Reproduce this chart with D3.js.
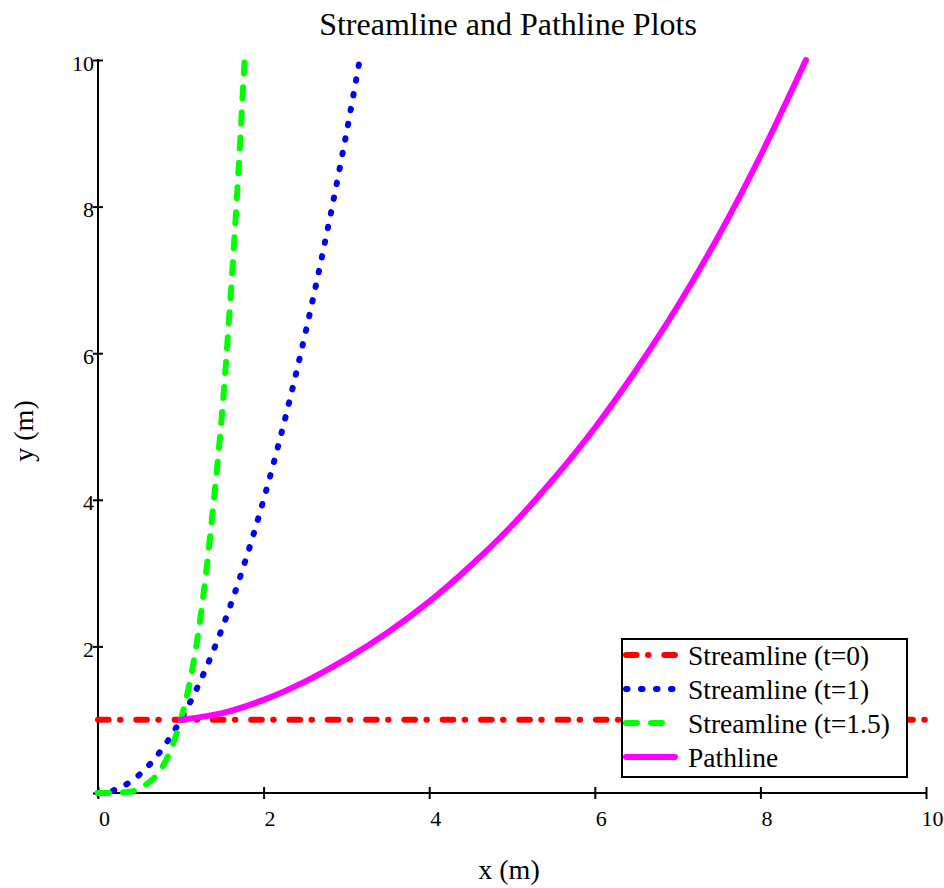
<!DOCTYPE html>
<html>
<head>
<meta charset="utf-8">
<script src="https://cdn.jsdelivr.net/npm/d3@7/dist/d3.min.js"></script>
<style>
  html, body { margin: 0; padding: 0; background: #ffffff; }
  svg text { font-family: "Liberation Serif", "Times New Roman", serif; fill: #000; }
</style>
</head>
<body>
<svg id="chart" width="944" height="888"></svg>
<script>
// ---- data ----
const titleText = "Streamline and Pathline Plots";
const xLabelText = "x (m)";
const yLabelText = "y (m)";

const xTickValues = [0, 2, 4, 6, 8, 10];
const yTickValues = [0, 2, 4, 6, 8, 10];
const yTickLabels = ["", "2", "4", "6", "8", "10"];

const seriesNames = ["Streamline (t=0)", "Streamline (t=1)", "Streamline (t=1.5)", "Pathline"];
const seriesColors = ["#ff0000", "#0000ff", "#00ff00", "#ff00ff"];

// Streamline t=0
const t0X = [0, 10];
const t0Y = [1, 1];
// Streamline t=1
const t1X = [0, 0.2, 0.4, 0.6, 0.8, 1.0, 1.2, 1.4, 1.6, 1.8, 2.0, 2.2, 2.4, 2.6, 2.8, 3.0, 3.16];
const t1Y = [0, 0.04, 0.16, 0.36, 0.64, 1.0, 1.44, 1.96, 2.56, 3.24, 4.0, 4.84, 5.76, 6.76, 7.84, 9.0, 10.0];
// Streamline t=1.5
const t15X = [0, 0.2, 0.4, 0.5, 0.6, 0.7, 0.8, 0.9, 1.0, 1.1, 1.2, 1.3, 1.4, 1.5, 1.6, 1.7, 1.77];
const t15Y = [0, 0.002, 0.02, 0.05, 0.13, 0.23, 0.40, 0.65, 1.0, 1.46, 2.1, 2.95, 4.0, 5.2, 6.75, 8.55, 10];
// Pathline
const pathX = [1.0, 1.5, 2.0, 2.5, 3.0, 3.5, 4.0, 4.5, 5.0, 5.5, 6.0, 6.5, 7.0, 7.5, 8.0, 8.55];
const pathY = [1.0, 1.09, 1.27, 1.52, 1.83, 2.19, 2.61, 3.10, 3.65, 4.28, 4.98, 5.77, 6.64, 7.61, 8.69, 10.0];

// ---- layout ----
const plot = { left: 98, right: 926, top: 60, bottom: 793 };
const svg = d3.select("#chart");

const x = d3.scaleLinear().domain([0, 10]).range([plot.left, plot.right]);
const y = d3.scaleLinear().domain([0, 10]).range([plot.bottom, plot.top]);

const zip = (xs, ys) => xs.map((v, i) => [v, ys[i]]);
const lineGen = d3.line().x(d => x(d[0])).y(d => y(d[1])).curve(d3.curveCatmullRom.alpha(0.5));

const styles = [
  { width: 6, dash: "10.6,11.4,0.5,15.8", cap: "round" },
  { width: 6, dash: "1.5,13.5", cap: "round" },
  { width: 6, dash: "11,14", cap: "round" },
  { width: 6, dash: null, cap: "round" }
];

const seriesData = [zip(t0X, t0Y), zip(t1X, t1Y), zip(t15X, t15Y), zip(pathX, pathY)];

// ---- axes ----
const tickFont = "22px";
const xAxis = d3.axisBottom(x).tickValues(xTickValues).tickSize(0).tickFormat(d3.format("d"));
const gx = svg.append("g").attr("transform", `translate(0,${plot.bottom})`).call(xAxis);
gx.select(".domain").remove();
gx.selectAll(".tick line").attr("y1", -6).attr("y2", 6).attr("stroke", "#000").attr("stroke-width", 2);
gx.selectAll(".tick text").attr("dy", 0).attr("y", 33).attr("dx", 6)
  .style("font-size", tickFont).style("font-family", "'Liberation Serif','Times New Roman',serif");

const yAxis = d3.axisLeft(y).tickValues(yTickValues).tickSize(0).tickFormat((d, i) => yTickLabels[i]);
const gy = svg.append("g").attr("transform", `translate(${plot.left},0)`).call(yAxis);
gy.select(".domain").remove();
gy.selectAll(".tick line").attr("x1", -5).attr("x2", d => d === 0 ? 0 : 5).attr("stroke", "#000").attr("stroke-width", 2);
gy.selectAll(".tick text").attr("x", -4).attr("dy", 0).attr("y", 10)
  .style("font-size", tickFont).style("font-family", "'Liberation Serif','Times New Roman',serif");

// axis lines
svg.append("line").attr("x1", plot.left).attr("x2", plot.left)
  .attr("y1", y(10) - 1).attr("y2", plot.bottom + 5).attr("stroke", "#000").attr("stroke-width", 2);
svg.append("line").attr("x1", plot.left - 1).attr("x2", x(10) + 1)
  .attr("y1", plot.bottom).attr("y2", plot.bottom).attr("stroke", "#000").attr("stroke-width", 2);

// ---- series ----
seriesData.forEach((data, i) => {
  svg.append("path")
    .attr("d", lineGen(data))
    .attr("fill", "none")
    .attr("stroke", seriesColors[i])
    .attr("stroke-width", styles[i].width)
    .attr("stroke-linecap", styles[i].cap)
    .attr("stroke-linejoin", "round")
    .attr("stroke-dasharray", styles[i].dash);
});

// ---- title and labels ----
svg.append("text").attr("x", 508).attr("y", 35).attr("text-anchor", "middle")
  .style("font-size", "32px").text(titleText);
svg.append("text").attr("x", 509).attr("y", 879).attr("text-anchor", "middle")
  .style("font-size", "28px").text(xLabelText);
svg.append("text").attr("transform", "translate(33,431) rotate(-90)").attr("text-anchor", "middle")
  .style("font-size", "28px").text(yLabelText);

// ---- legend ----
const leg = svg.append("g");
leg.append("rect").attr("x", 622).attr("y", 639).attr("width", 285).attr("height", 138)
  .attr("fill", "#fff").attr("stroke", "#000").attr("stroke-width", 2);
const rowY = d3.scalePoint().domain(seriesNames).range([655, 757]);
seriesNames.forEach((name, i) => {
  const cy = rowY(name);
  leg.append("line").attr("x1", 626).attr("x2", 675).attr("y1", cy).attr("y2", cy)
    .attr("stroke", seriesColors[i]).attr("stroke-width", styles[i].width)
    .attr("stroke-linecap", styles[i].cap).attr("stroke-dasharray", styles[i].dash);
  leg.append("text").attr("x", 688).attr("y", cy + 10).style("font-size", "27.5px").text(name);
});
</script>
</body>
</html>
